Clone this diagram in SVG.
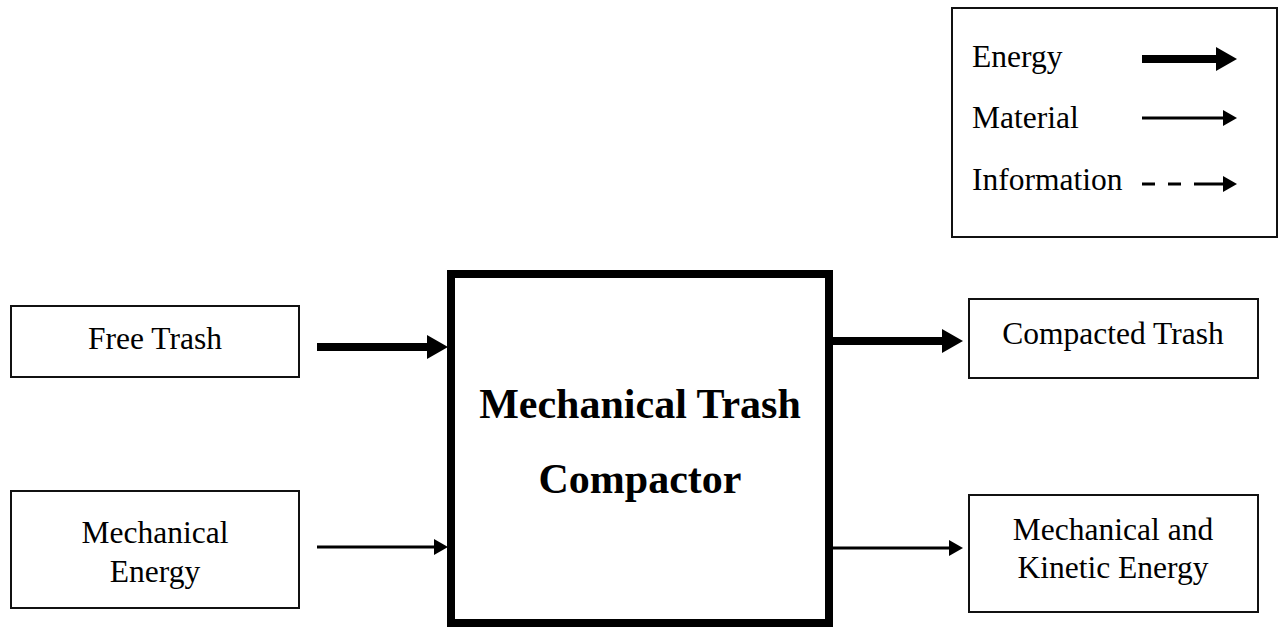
<svg xmlns="http://www.w3.org/2000/svg" width="1283" height="630" viewBox="0 0 1283 630">
  <style>
    .box { fill: #fff; stroke: #111; stroke-width: 2; }
    .main { fill: #fff; stroke: #000; stroke-width: 8; }
    .lbl { font-family: "Liberation Serif", "Times New Roman", serif; font-size: 31.5px; fill: #000; text-anchor: middle; }
    .leg { font-family: "Liberation Serif", "Times New Roman", serif; font-size: 31.5px; fill: #000; }
    .title { font-family: "Liberation Serif", "Times New Roman", serif; font-size: 42px; font-weight: bold; fill: #000; text-anchor: middle; }
    .energy { stroke: #000; stroke-width: 8; fill: none; marker-end: url(#headE); }
    .material { stroke: #000; stroke-width: 3; fill: none; marker-end: url(#headM); }
    .info { stroke: #000; stroke-width: 3; fill: none; stroke-dasharray: 13 13 13 13 40; marker-end: url(#headM); }
  </style>
  <defs>
    <marker id="headE" markerUnits="userSpaceOnUse" viewBox="0 0 21 24" markerWidth="21" markerHeight="24" refX="0" refY="12" orient="auto">
      <path d="M0,0 L21,12 L0,24 z" fill="#000"/>
    </marker>
    <marker id="headM" markerUnits="userSpaceOnUse" viewBox="0 0 14 16" markerWidth="14" markerHeight="16" refX="0" refY="8" orient="auto">
      <path d="M0,0 L14,8 L0,16 z" fill="#000"/>
    </marker>
  </defs>

  <g id="legend">
    <rect class="box" x="952" y="8" width="325" height="229"/>
    <text class="leg" x="972" y="67">Energy</text>
    <text class="leg" x="972" y="128">Material</text>
    <text class="leg" x="972" y="190">Information</text>
    <line class="energy" x1="1142" y1="59" x2="1216" y2="59"/>
    <line class="material" x1="1142" y1="118" x2="1223" y2="118"/>
    <line class="info" x1="1142" y1="184" x2="1223" y2="184"/>
  </g>

  <g id="free-trash">
    <rect class="box" x="11" y="306" width="288" height="71"/>
    <text class="lbl" x="155" y="349">Free Trash</text>
  </g>

  <g id="mechanical-energy">
    <rect class="box" x="11" y="491" width="288" height="117"/>
    <text class="lbl" x="155" y="543">Mechanical</text>
    <text class="lbl" x="155" y="582">Energy</text>
  </g>

  <g id="compactor">
    <rect class="main" x="451" y="274" width="378" height="349"/>
    <text class="title" x="640" y="418">Mechanical Trash</text>
    <text class="title" x="640" y="493">Compactor</text>
  </g>

  <g id="compacted-trash">
    <rect class="box" x="969" y="299" width="289" height="79"/>
    <text class="lbl" x="1113" y="344">Compacted Trash</text>
  </g>

  <g id="mech-kinetic-energy">
    <rect class="box" x="969" y="495" width="289" height="117"/>
    <text class="lbl" x="1113" y="540">Mechanical and</text>
    <text class="lbl" x="1113" y="578">Kinetic Energy</text>
  </g>

  <g id="connectors">
    <line class="energy" x1="317" y1="347" x2="427" y2="347"/>
    <line class="material" x1="317" y1="547" x2="434" y2="547"/>
    <line class="energy" x1="833" y1="341" x2="942" y2="341"/>
    <line class="material" x1="833" y1="548" x2="949" y2="548"/>
  </g>
</svg>
